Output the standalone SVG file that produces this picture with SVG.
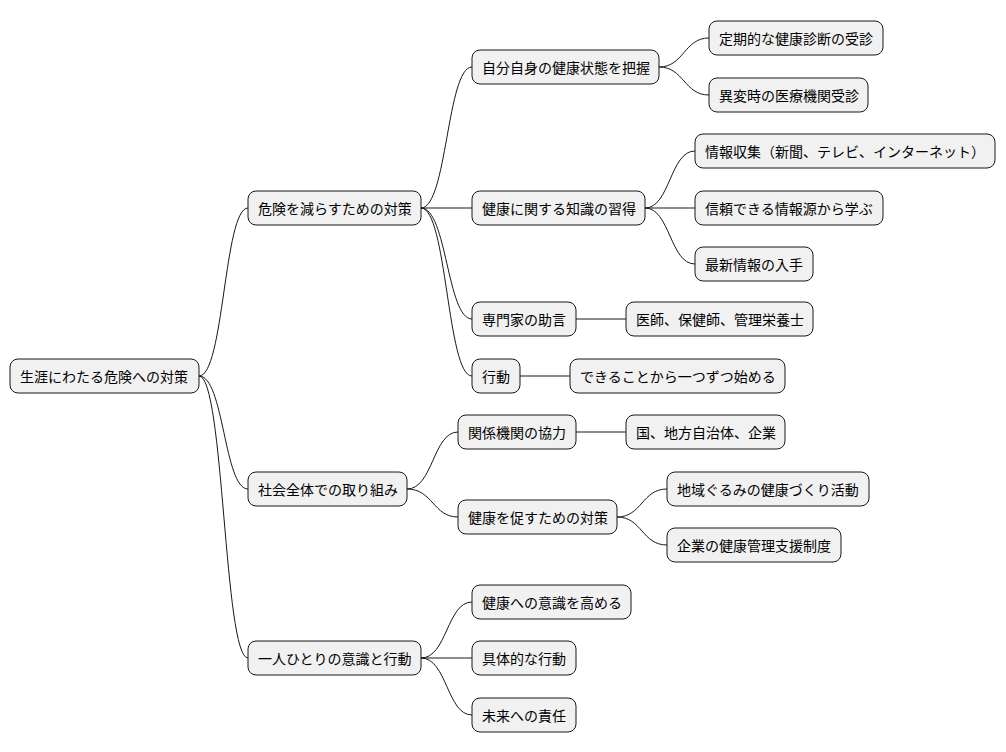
<svg xmlns="http://www.w3.org/2000/svg" width="1006" height="752" viewBox="0 0 1006 752">
<style>
.n rect{fill:#F1F1F1;stroke:#181818;stroke-width:1}
.n text{font-family:"Noto Sans CJK JP","Noto Sans",sans-serif;font-size:14px;fill:#000;dominant-baseline:central}
#c path{fill:none;stroke:#181818;stroke-width:1}
</style>
<rect width="1006" height="752" fill="#fff"/>
<g id="c">
<path d="M199,376 C224,376 224,208 248,208"/>
<path d="M199,376 C224,376 224,489 248,489"/>
<path d="M199,376 C224,376 224,658 248,658"/>
<path d="M421,208 C447,208 447,67 472,67"/>
<path d="M421,208 L472,208"/>
<path d="M421,208 C447,208 447,319 472,319"/>
<path d="M421,208 C447,208 447,376 472,376"/>
<path d="M659,67 C684,67 684,38 709,38"/>
<path d="M659,67 C684,67 684,95 709,95"/>
<path d="M645,208 C670,208 670,151 695,151"/>
<path d="M645,208 L695,208"/>
<path d="M645,208 C670,208 670,264 695,264"/>
<path d="M576,319 L626,319"/>
<path d="M520,376 L570,376"/>
<path d="M407,489 C433,489 433,432 458,432"/>
<path d="M407,489 C433,489 433,517 458,517"/>
<path d="M576,432 L626,432"/>
<path d="M617,517 C642,517 642,489 667,489"/>
<path d="M617,517 C642,517 642,545 667,545"/>
<path d="M421,658 C447,658 447,602 472,602"/>
<path d="M421,658 L472,658"/>
<path d="M421,658 C447,658 447,715 472,715"/>
</g>
<g id="root" class="n"><rect x="10" y="359" width="189" height="34" rx="8"/><text x="20" y="376">生涯にわたる危険への対策</text></g>
<g id="n1" class="n"><rect x="248" y="191" width="173" height="34" rx="8"/><text x="258" y="208">危険を減らすための対策</text></g>
<g id="n2" class="n"><rect x="248" y="472" width="159" height="34" rx="8"/><text x="258" y="489">社会全体での取り組み</text></g>
<g id="n3" class="n"><rect x="248" y="641" width="173" height="34" rx="8"/><text x="258" y="658">一人ひとりの意識と行動</text></g>
<g id="n11" class="n"><rect x="472" y="50" width="187" height="34" rx="8"/><text x="482" y="67">自分自身の健康状態を把握</text></g>
<g id="n12" class="n"><rect x="472" y="191" width="173" height="34" rx="8"/><text x="482" y="208">健康に関する知識の習得</text></g>
<g id="n13" class="n"><rect x="472" y="302" width="104" height="34" rx="8"/><text x="482" y="319">専門家の助言</text></g>
<g id="n14" class="n"><rect x="472" y="359" width="48" height="34" rx="8"/><text x="482" y="376">行動</text></g>
<g id="n111" class="n"><rect x="709" y="21" width="174" height="34" rx="8"/><text x="719" y="38">定期的な健康診断の受診</text></g>
<g id="n112" class="n"><rect x="709" y="78" width="159" height="34" rx="8"/><text x="719" y="95">異変時の医療機関受診</text></g>
<g id="n121" class="n"><rect x="695" y="134" width="300" height="34" rx="8"/><text x="705" y="151">情報収集（新聞、テレビ、インターネット）</text></g>
<g id="n122" class="n"><rect x="695" y="191" width="188" height="34" rx="8"/><text x="705" y="208">信頼できる情報源から学ぶ</text></g>
<g id="n123" class="n"><rect x="695" y="247" width="118" height="34" rx="8"/><text x="705" y="264">最新情報の入手</text></g>
<g id="n131" class="n"><rect x="626" y="302" width="187" height="34" rx="8"/><text x="636" y="319">医師、保健師、管理栄養士</text></g>
<g id="n141" class="n"><rect x="570" y="359" width="215" height="34" rx="8"/><text x="580" y="376">できることから一つずつ始める</text></g>
<g id="n21" class="n"><rect x="458" y="415" width="118" height="34" rx="8"/><text x="468" y="432">関係機関の協力</text></g>
<g id="n22" class="n"><rect x="458" y="500" width="159" height="34" rx="8"/><text x="468" y="517">健康を促すための対策</text></g>
<g id="n211" class="n"><rect x="626" y="415" width="159" height="34" rx="8"/><text x="636" y="432">国、地方自治体、企業</text></g>
<g id="n221" class="n"><rect x="667" y="472" width="202" height="34" rx="8"/><text x="677" y="489">地域ぐるみの健康づくり活動</text></g>
<g id="n222" class="n"><rect x="667" y="528" width="174" height="34" rx="8"/><text x="677" y="545">企業の健康管理支援制度</text></g>
<g id="n31" class="n"><rect x="472" y="585" width="159" height="34" rx="8"/><text x="482" y="602">健康への意識を高める</text></g>
<g id="n32" class="n"><rect x="472" y="641" width="104" height="34" rx="8"/><text x="482" y="658">具体的な行動</text></g>
<g id="n33" class="n"><rect x="472" y="698" width="104" height="34" rx="8"/><text x="482" y="715">未来への責任</text></g>
</svg>
